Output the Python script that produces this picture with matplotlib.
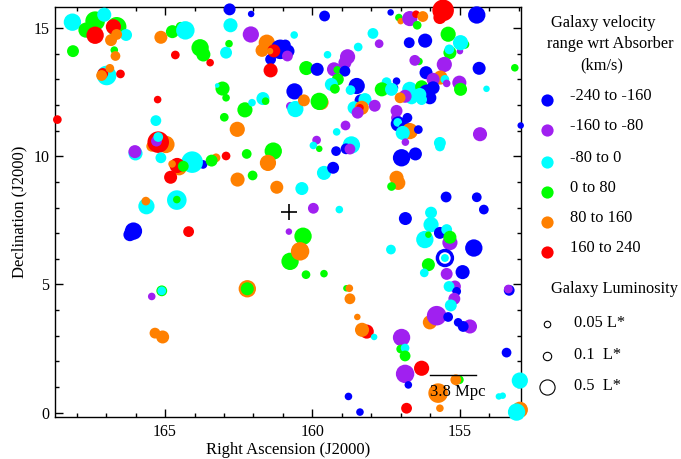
import numpy as np
import matplotlib
matplotlib.use('Agg')
import matplotlib.pyplot as plt
from matplotlib.lines import Line2D
from matplotlib.ticker import MultipleLocator

plt.rcParams['font.family'] = ['Liberation Serif', 'DejaVu Serif']

# Galaxies around the sightline: position, velocity offset wrt absorber (km/s), luminosity (L*)
ra = [
    168.14, 168.12, 167.37, 167.68, 167.06, 167.37, 166.64, 166.75, 166.32, 166.64,
    166.83, 166.72, 166.68, 166.98, 167.11, 167.15, 166.87, 166.51, 168.65, 165.25,
    165.14, 164.75, 164.47, 164.31, 164.65, 163.81, 163.70, 165.31, 166.00, 166.02,
    164.97, 165.45, 165.23, 165.29, 165.23, 165.14, 163.71, 164.08, 164.52, 164.59,
    164.76, 164.38, 164.81, 163.27, 163.42, 162.93, 164.60, 164.60, 165.63, 165.65,
    166.19, 166.07, 164.20, 165.45, 165.11, 165.11, 165.34, 165.08, 162.21, 162.21,
    162.81, 162.08, 162.78, 162.09, 162.83, 162.93, 163.47, 160.62, 161.55, 161.71,
    161.09, 160.92, 160.83, 160.85, 161.42, 161.31, 161.44, 161.42, 160.21, 159.84,
    159.59, 159.49, 158.81, 158.90, 159.27, 159.16, 158.90, 159.14, 159.36, 159.24,
    158.45, 157.95, 157.74, 156.72, 156.18, 157.35, 157.07, 157.01, 156.70, 156.49,
    156.26, 156.45, 155.68, 155.57, 154.43, 155.40, 154.83, 155.00, 154.98, 155.34,
    155.36, 156.39, 156.53, 155.53, 154.35, 153.14, 156.15, 155.66, 155.91, 155.51,
    155.02, 154.98, 155.45, 154.10, 158.50, 158.71, 157.49, 157.15, 157.24, 157.65,
    157.32, 156.70, 156.64, 156.86, 157.03, 156.30, 156.13, 155.91, 156.02, 156.36,
    156.30, 158.37, 158.22, 158.59, 158.33, 158.39, 158.47, 157.89, 157.15, 157.17,
    156.78, 157.09, 157.11, 156.83, 156.70, 156.94, 156.41, 156.85, 155.68, 155.68,
    154.32, 152.94, 156.98, 156.51, 157.15, 157.09, 157.32, 155.47, 154.43, 154.19,
    156.85, 159.09, 155.98, 155.98, 158.88, 159.18, 158.68, 159.20, 158.86, 158.73,
    159.61, 159.30, 159.97, 160.36, 161.21, 162.54, 162.03, 161.33, 161.51, 162.23,
    162.55, 162.99, 162.29, 162.05, 161.68, 161.59, 163.05, 162.93, 163.23, 160.61,
    160.75, 160.58, 160.29, 159.71, 159.77, 159.86, 159.97, 159.77, 160.80, 160.32,
    160.76, 160.42, 160.22, 159.61, 158.85, 158.75, 158.73, 158.48, 158.16, 158.32,
    157.91, 158.78, 158.39, 157.34, 156.19, 156.07, 155.68, 155.45, 155.34, 155.34,
    155.51, 155.51, 154.53, 156.07, 156.21, 155.45, 154.91, 155.17, 155.37, 155.11,
    155.19, 155.31, 156.02, 155.79, 155.40, 154.66, 155.06, 154.89, 153.33, 153.36,
    153.42, 156.98, 157.01, 156.86, 156.86, 156.86, 156.30, 156.75, 156.81, 155.74,
    155.68, 155.02, 155.14, 153.55, 153.68, 152.97, 152.97, 153.08,
]
dec = [
    15.23, 14.10, 15.27, 14.92, 15.52, 14.72, 15.05, 15.05, 14.73, 14.75,
    14.53, 14.14, 13.91, 13.15, 13.23, 13.15, 13.43, 13.21, 11.43, 12.21,
    14.64, 14.86, 15.05, 14.91, 13.95, 14.23, 13.97, 11.39, 10.11, 10.18,
    10.46, 10.39, 10.55, 10.59, 10.75, 9.94, 9.68, 9.77, 9.55, 9.64,
    9.70, 9.61, 9.18, 9.94, 9.83, 10.01, 8.29, 8.31, 8.05, 8.25,
    6.94, 7.08, 7.06, 4.53, 4.75, 4.75, 3.10, 2.95, 4.83, 4.83,
    15.73, 15.55, 15.11, 14.75, 14.39, 14.04, 13.65, 14.73, 14.43, 14.13,
    14.17, 14.34, 14.10, 13.91, 13.78, 14.11, 14.10, 13.35, 13.44, 13.39,
    15.47, 13.96, 13.88, 13.65, 13.39, 13.37, 13.32, 13.00, 12.80, 12.63,
    14.26, 14.79, 14.39, 14.43, 14.51, 15.61, 15.41, 15.27, 15.37, 15.54,
    15.45, 15.11, 15.41, 15.69, 15.51, 14.76, 14.36, 14.10, 14.43, 14.04,
    14.17, 13.70, 13.74, 13.58, 13.43, 13.45, 13.26, 13.07, 13.00, 13.00,
    12.87, 12.61, 12.84, 12.63, 12.74, 12.58, 12.89, 12.93, 12.67, 12.61,
    12.61, 12.61, 12.28, 12.34, 12.28, 12.71, 12.48, 12.67, 12.28, 12.41,
    12.21, 12.18, 12.21, 11.89, 11.89, 11.89, 11.70, 11.97, 11.77, 11.50,
    11.50, 11.26, 11.32, 11.02, 10.98, 10.91, 11.04, 10.55, 10.52, 10.38,
    10.86, 11.20, 9.94, 10.09, 9.16, 8.96, 8.82, 8.41, 8.40, 7.92,
    7.57, 7.92, 7.80, 7.33, 11.20, 10.95, 10.44, 10.20, 10.29, 10.28,
    9.35, 9.55, 7.97, 8.74, 8.79, 9.09, 9.25, 10.20, 9.74, 10.09,
    11.05, 11.52, 11.81, 12.09, 12.25, 12.15, 12.64, 12.28, 12.76, 12.53,
    11.95, 11.84, 12.18, 12.10, 12.14, 10.63, 10.42, 10.29, 7.06, 6.88,
    5.90, 6.29, 5.38, 5.42, 4.85, 4.85, 4.44, 3.73, 3.16, 3.23,
    2.95, 0.63, 0.02, 6.36, 6.75, 6.94, 7.01, 7.14, 6.63, 6.84,
    6.03, 6.03, 6.42, 5.77, 5.45, 5.41, 5.48, 4.92, 4.92, 4.73,
    4.44, 4.18, 3.52, 3.78, 3.73, 3.36, 3.52, 3.36, 4.77, 4.82,
    2.34, 2.93, 2.48, 2.52, 2.21, 1.51, 1.73, 1.08, 0.17, 0.76,
    0.17, 1.28, 1.28, 0.66, 0.63, 1.25, 0.11, 0.02,
]
dv = [
    -40, 40, 40, 40, -40, 200, 40, 200, -40, 120,
    120, 40, 120, -40, 200, 120, 120, 200, 200, 200,
    120, 40, 40, -40, 200, 40, 40, -40, -40, -120,
    120, 120, 200, -120, -40, -40, -200, -40, 120, 200,
    120, 40, 200, 120, 40, 200, -40, 40, -40, 120,
    -200, -200, 200, -120, 40, -40, 120, 120, 120, 40,
    -200, -200, -40, -120, 40, -40, 200, -40, 120, 120,
    -200, -200, -200, -120, -200, 200, 120, 200, 40, -200,
    -200, -40, -120, -120, -120, 40, -200, 40, -40, 40,
    -40, -40, -120, -200, -200, -200, 40, 120, -120, 200,
    120, 40, 200, 200, -200, 40, 40, -120, -40, 40,
    -40, 40, -120, -120, -200, 40, -200, 120, -120, -40,
    -120, 40, -120, -40, -200, -40, -40, -200, -200, 40,
    -40, -40, -40, -120, 120, 40, -200, -200, -200, -40,
    -40, -200, -40, -40, 120, 200, -120, -120, -120, -120,
    -200, -200, -40, -200, 120, -40, -200, -120, -40, -40,
    -120, -200, -200, -200, 120, 120, 40, -200, -200, -200,
    -200, -40, -40, -40, -120, -40, -40, -200, -200, -120,
    -40, -200, -120, -40, 120, 120, 40, 40, 120, 40,
    120, 40, 40, -40, -40, 40, 40, 40, -40, -200,
    -120, -40, 120, 120, 40, -120, -40, 40, -120, 40,
    40, 120, 40, 40, 40, 120, 120, 120, 200, 120,
    -40, -200, -200, -40, -40, 40, -200, -40, -120, 40,
    -200, -40, -200, 40, -40, -120, -200, -120, -40, -200,
    -120, -40, 120, -120, -200, -120, -200, -200, -200, -120,
    -200, -120, 40, -40, 40, -120, 200, -200, 200, 120,
    120, 40, 120, -40, -40, -40, 120, -40,
]
lum = [
    0.72, 0.26, 1.0, 0.5, 0.41, 0.72, 1.0, 0.5, 0.26, 0.2,
    0.26, 0.076, 0.15, 1.0, 0.2, 0.2, 0.11, 0.11, 0.11, 0.076,
    0.33, 0.33, 0.15, 0.85, 0.11, 0.72, 0.41, 0.2, 0.41, 0.33,
    0.72, 0.2, 1.3, 0.2, 0.15, 0.2, 0.11, 1.3, 0.5, 0.5,
    0.076, 0.2, 0.33, 0.11, 0.26, 0.11, 1.0, 0.076, 0.6, 0.11,
    0.33, 0.72, 0.2, 0.076, 0.2, 0.11, 0.2, 0.33, 0.72, 0.33,
    0.26, 0.05, 0.41, 0.6, 0.076, 0.26, 0.076, 0.076, 0.6, 0.33,
    1.0, 0.2, 0.33, 0.2, 0.2, 0.33, 0.05, 0.41, 0.41, 0.33,
    0.2, 0.076, 0.5, 0.33, 0.41, 0.076, 0.2, 0.26, 0.33, 0.15,
    0.11, 0.2, 0.11, 0.2, 0.41, 0.05, 0.076, 0.05, 0.5, 0.076,
    0.2, 0.11, 0.33, 1.3, 0.72, 0.5, 0.11, 0.05, 0.5, 0.33,
    0.15, 0.076, 0.2, 0.5, 0.33, 0.076, 0.33, 0.41, 0.33, 0.11,
    0.41, 0.33, 0.076, 0.05, 0.6, 0.15, 0.15, 0.076, 0.11, 0.41,
    0.33, 0.5, 0.33, 0.33, 0.2, 0.33, 0.6, 0.33, 0.33, 0.33,
    0.2, 0.26, 0.33, 0.33, 0.41, 0.076, 0.26, 0.26, 0.26, 0.15,
    0.15, 0.5, 0.11, 0.6, 0.6, 0.41, 0.11, 0.076, 0.26, 0.15,
    0.41, 0.05, 0.72, 0.33, 0.41, 0.41, 0.11, 0.2, 0.15, 0.15,
    0.33, 0.076, 0.26, 0.5, 0.15, 0.076, 0.72, 0.15, 0.2, 0.2,
    0.41, 0.26, 0.2, 0.33, 0.33, 0.41, 0.15, 0.72, 0.6, 0.15,
    0.5, 0.11, 0.5, 0.076, 0.33, 0.076, 0.41, 0.076, 0.02, 0.6,
    0.11, 0.6, 0.26, 0.5, 0.72, 0.11, 0.076, 0.05, 0.05, 0.72,
    0.72, 0.85, 0.11, 0.076, 0.05, 0.076, 0.2, 0.05, 0.41, 0.41,
    0.05, 0.076, 0.076, 0.15, 0.72, 0.05, 0.26, 0.2, 0.5, 0.33,
    0.85, 0.15, 0.72, 0.33, 0.11, 0.26, 0.41, 0.26, 0.2, 0.11,
    0.26, 0.26, 0.41, 1.0, 0.15, 0.41, 0.11, 0.2, 0.2, 0.11,
    0.15, 0.72, 0.11, 0.11, 0.2, 0.85, 0.5, 0.076, 0.2, 1.0,
    0.076, 0.11, 0.2, 0.05, 0.05, 0.6, 0.6, 0.72,
]
# galaxy sitting inside a brighter one, drawn with a white rim
rimmed = [231]

absorber_ra, absorber_dec = 160.80, 7.81
scale_ra = [156.02, 154.47]
scale_dec = 1.45
scale_label = '3.8 Mpc'

vel_edges = [-240, -160, -80, 0, 80, 160, 240]
vel_colors = ['#0000ff', '#a020f0', '#00ffff', '#00ff00', '#ff8000', '#ff0000']
legend_lum = [0.05, 0.1, 0.5]
legend_lum_labels = ['0.05 L*', '0.1  L*', '0.5  L*']


def marker_diameter(l):
    # pixel diameter of a galaxy symbol for a given luminosity
    return 6.5 * (np.asarray(l, dtype=float) / 0.05) ** 0.368


W, H = 681, 459
fig = plt.figure(figsize=(W / 100, H / 100), dpi=100)
ax = fig.add_axes([55 / W, 1 - 416.7 / H, 466 / W, 409.4 / H])

bins = np.digitize(dv, vel_edges[1:-1])
colors = [vel_colors[b] for b in bins]
sizes = (marker_diameter(lum) * 0.72) ** 2
edgecolors = [(1, 1, 1, 0)] * len(ra)
linewidths = np.zeros(len(ra))
for i in rimmed:
    edgecolors[i] = 'white'
    linewidths[i] = 1.3

ax.scatter(ra, dec, s=sizes, c=colors, edgecolors=edgecolors,
           linewidths=linewidths, clip_on=False, zorder=3)

# absorber sightline
ax.plot(absorber_ra, absorber_dec, marker='+', ms=11.5, mew=1.2,
        color='black', zorder=4)

# scale bar
ax.plot(scale_ra, [scale_dec, scale_dec], color='black', lw=1.0, zorder=4)
ax.text(scale_ra[0], scale_dec - 0.64, scale_label, ha='left', va='center',
        fontsize=12, zorder=5)

ax.set_xlim(168.73, 152.93)
ax.set_ylim(-0.16, 15.81)
ax.xaxis.set_major_locator(MultipleLocator(5))
ax.xaxis.set_minor_locator(MultipleLocator(1))
ax.yaxis.set_major_locator(MultipleLocator(5))
ax.yaxis.set_minor_locator(MultipleLocator(1))
ax.tick_params(which='both', direction='in', top=True, right=True,
               width=1.0, labelsize=11.5)
ax.tick_params(which='major', length=5.8)
ax.tick_params(which='minor', length=2.9)
ax.tick_params(axis='x', pad=5)
ax.tick_params(axis='y', pad=4)
for sp in ax.spines.values():
    sp.set_linewidth(1.0)

ax.set_xlabel('Right Ascension (J2000)', fontsize=12, labelpad=2)
ax.set_ylabel('Declination (J2000)', fontsize=12, labelpad=4)


# legend on the right, laid out in figure pixels
def fx(x):
    return x / W


def fy(y):
    return 1 - y / H


LEG_FS = 11.8
fig.text(fx(551), fy(23), 'Galaxy velocity', ha='left', va='center', fontsize=LEG_FS)
fig.text(fx(547), fy(44), 'range wrt Absorber', ha='left', va='center', fontsize=LEG_FS)
fig.text(fx(580), fy(65), '(km/s)', ha='left', va='center', fontsize=LEG_FS)

row_y = [100, 130, 161.7, 191.7, 221.7, 251.7]
for k, col in enumerate(vel_colors):
    fig.add_artist(Line2D([fx(546.7)], [fy(row_y[k])], transform=fig.transFigure,
                          marker='o', ms=8.8, mfc=col, mec='none', ls='none'))
    label = f'{vel_edges[k]} to {vel_edges[k + 1]}'
    fig.text(fx(570), fy(row_y[k] - 4), label, ha='left', va='center', fontsize=LEG_FS)

fig.text(fx(551), fy(289), 'Galaxy Luminosity', ha='left', va='center', fontsize=LEG_FS)
lum_y = [324, 355.7, 387.3]
for k, l in enumerate(legend_lum):
    fig.add_artist(Line2D([fx(546.7)], [fy(lum_y[k])], transform=fig.transFigure,
                          marker='o', ms=float(marker_diameter(l)) * 0.72,
                          mfc='none', mec='black', mew=0.8, ls='none'))
    fig.text(fx(574), fy(lum_y[k] - 1), legend_lum_labels[k], ha='left',
             va='center', fontsize=LEG_FS)

fig.savefig('out.png', dpi=100)
